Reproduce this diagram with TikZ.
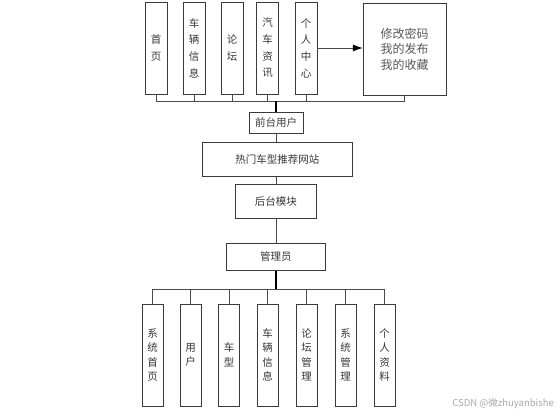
\documentclass[tikz,border=0pt]{standalone}
\usepackage{fontspec}
\newfontfamily\cjk{Noto Sans CJK SC}
\usetikzlibrary{arrows.meta}
\definecolor{boxc}{HTML}{3A3A3A}
\definecolor{txtc}{HTML}{383838}
\definecolor{linec}{HTML}{4A4A4A}
\tikzset{
  box/.style={draw=boxc, fill=white, line width=0.8pt, inner sep=0pt, align=center, text=txtc,
    font=\cjk\fontsize{10.5}{14.4}\selectfont},
  topbox/.style={box, minimum width=22pt, minimum height=92pt, font=\cjk\fontsize{10.5}{16.7}\selectfont},
  botbox/.style={box, minimum width=21pt, minimum height=102pt},
  conn/.style={draw=linec, line width=0.8pt},
  trunk/.style={draw=black, line width=1.4pt},
  wmark/.style={font=\cjk\fontsize{9.5}{11}\selectfont, text=black!35, anchor=east, inner sep=0pt}
}
\begin{document}
\begin{tikzpicture}[x=1pt,y=-1pt]
\useasboundingbox (0,0) rectangle (558,414);
% top row
\node[topbox] (t1) at (156,48) {首\\页};
\node[topbox] (t2) at (194,48) {车\\辆\\信\\息};
\node[topbox] (t3) at (232,48) {论\\坛};
\node[topbox] (t4) at (267.5,48) {汽\\车\\资\\讯};
\node[topbox] (t5) at (306,48) {个\\人\\中\\心};
\node[box, minimum width=83pt, minimum height=92pt, font=\cjk\fontsize{12}{15.5}\selectfont, text=black!65] (mod) at (404.7,49) {修改密码\\我的发布\\我的收藏};
\draw[conn, -{Latex[length=10pt,width=7pt,color=black]}] (t5.east) -- (t5.east -| mod.west);
% top bus
\coordinate (topbus) at (276,101);
\foreach \n in {t1,t2,t3,t4,t5,mod}{\draw[conn] (\n.south) |- (topbus);}
% middle column
\node[box, minimum width=54pt, minimum height=21pt] (fu) at (276,123) {前台用户};
\node[box, minimum width=150pt, minimum height=34pt] (hot) at (277.3,159.7) {热门车型推荐网站};
\node[box, minimum width=81.7pt, minimum height=34pt] (back) at (275.8,201.3) {后台模块};
\node[box, minimum width=98.3pt, minimum height=27pt] (admin) at (275.8,257) {管理员};
\draw[trunk] (topbus) -- (topbus |- fu.north);
\draw[conn] (fu.south) -- (fu.south |- hot.north);
\draw[conn] (fu.south |- hot.south) -- (fu.south |- back.north);
\draw[conn] (fu.south |- back.south) -- (fu.south |- admin.north);
% bottom bus
\coordinate (botbus) at (276,289);
\draw[trunk] (fu.south |- admin.south) -- (botbus);
\node[botbox] (b1) at (152.7,355) {系\\统\\首\\页};
\node[botbox] (b2) at (190.7,355) {用\\户};
\node[botbox] (b3) at (229,355) {车\\型};
\node[botbox] (b4) at (267.5,355) {车\\辆\\信\\息};
\node[botbox] (b5) at (306.5,355) {论\\坛\\管\\理};
\node[botbox] (b6) at (345.5,355) {系\\统\\管\\理};
\node[botbox] (b7) at (384.5,355) {个\\人\\资\\料};
\foreach \n in {b1,b2,b3,b4,b5,b6,b7}{\draw[conn] (\n.north) |- (botbus);}
\node[wmark] (wm) at (554,404) {CSDN @微zhuyanbishe};
\end{tikzpicture}
\end{document}
